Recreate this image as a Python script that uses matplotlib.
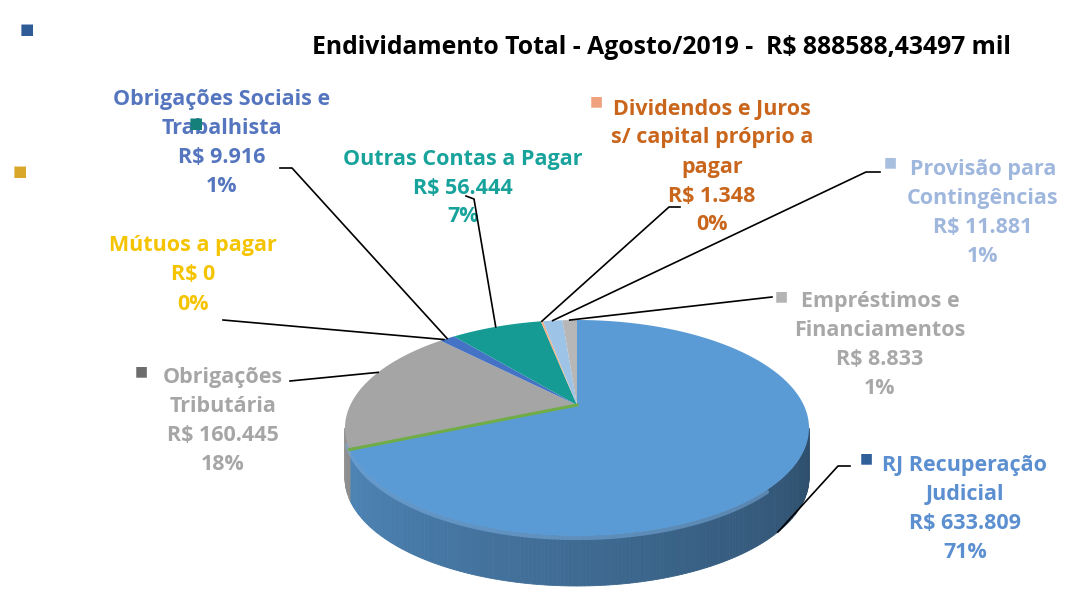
import matplotlib.pyplot as plt
import numpy as np
from matplotlib.patches import Polygon

# data, clockwise from 12 o'clock
categories = ["RJ Recuperação\nJudicial", "Mútuos a pagar", "Obrigações\nTributária",
              "Obrigações Sociais e\nTrabalhista", "Outras Contas a Pagar",
              "Dividendos e Juros\ns/ capital próprio a\npagar", "Provisão para\nContingências",
              "Empréstimos e\nFinanciamentos"]
values = [633809, 0, 160445, 9916, 56444, 1348, 11881, 8833]
value_labels = ["R$ 633.809", "R$ 0", "R$ 160.445", "R$ 9.916", "R$ 56.444",
                "R$ 1.348", "R$ 11.881", "R$ 8.833"]
pct_labels = ["71%", "0%", "18%", "1%", "7%", "0%", "1%", "1%"]
title = "Endividamento Total - Agosto/2019 -  R$ 888588,43497 mil"

slice_colors = ["#5b9bd5", "#70ad47", "#a5a5a5", "#4472c4", "#159b94", "#f4b183", "#9dc3e6", "#b7b7b7"]
text_colors = ["#5b8fd0", "#f5c400", "#a6a6a6", "#5576bf", "#17a39b", "#c9661c", "#9fb7dd", "#a8a8a8"]
key_colors = ["#2f5f99", None, "#6d6d6d", None, None, "#f0a27e", "#a9bfe0", "#b4b4b4"]

# layout (pixels, y down)
cx, cy, a, b, depth = 577, 428, 232, 108, 50
apex = (577, 405)
label_xy = [(965, 509), (193, 275), (223, 421), (222, 143), (463, 188), (712, 167), (983, 213), (880, 345)]
line_start = [[(850, 466), (838, 466)], [(223, 320)], [(290, 381)], [(280, 168), (292, 168)],
              [(466, 196), (474, 199)], [(680, 207), (669, 207)], [(880, 172), (866, 172)], [(772, 297)]]
anchor_deg = [120, 325, 301, None, None, None, None, None]
key_xy = [(866, 458), None, (141, 371), None, None, (596, 101), (890, 162), (781, 296)]

fig = plt.figure(figsize=(10.71, 5.92), dpi=100)
ax = fig.add_axes([0, 0, 1, 1])
ax.set_xlim(0, 1071)
ax.set_ylim(592, 0)
ax.axis("off")


def rim(theta, drop=0.0):
    t = np.radians(theta)
    return cx + a * np.sin(t), cy - b * np.cos(t) + drop


fracs = np.array(values, dtype=float) / sum(values)
bounds = np.concatenate([[0], np.cumsum(fracs) * 360])


def shade(c, f):
    c = np.array(plt.matplotlib.colors.to_rgb(c))
    return tuple(np.clip(c * f, 0, 1))


# side wall (front half only)
steps = np.linspace(90, 270, 181)
for t0, t1 in zip(steps[:-1], steps[1:]):
    k = np.searchsorted(bounds, (t0 + t1) / 2) - 1
    f = 0.5 + 0.38 * (t0 - 90) / 180
    x0, y0 = rim(t0)
    x1, y1 = rim(t1)
    ax.add_patch(Polygon([(x0, y0), (x1, y1), (x1, y1 + depth), (x0, y0 + depth)],
                         closed=True, facecolor=shade(slice_colors[k], f),
                         edgecolor=shade(slice_colors[k], f), lw=0.6, zorder=2))
# soft highlight along the top edge of the wall
hx, hy = rim(np.linspace(125, 262, 120), 2)
ax.plot(hx, hy, color="#7fb3e6", lw=3, alpha=0.5, zorder=3, solid_capstyle="round")

# top face
for i, v in enumerate(values):
    t = np.linspace(bounds[i], bounds[i + 1], max(2, int(bounds[i + 1] - bounds[i]) * 2))
    xs, ys = rim(t)
    pts = [apex] + list(zip(xs, ys))
    if v == 0:
        ax.plot([apex[0], xs[0]], [apex[1], ys[0]], color=slice_colors[i], lw=2.2, zorder=5)
    else:
        ax.add_patch(Polygon(pts, closed=True, facecolor=slice_colors[i], edgecolor="none", zorder=4))

# labels and leader lines
fp = dict(family=["Open Sans", "DejaVu Sans"], weight="bold", fontsize=15.5)
for i in range(len(values)):
    txt = categories[i] + "\n" + value_labels[i] + "\n" + pct_labels[i]
    ax.text(label_xy[i][0], label_xy[i][1], txt, ha="center", va="center", color=text_colors[i],
            linespacing=1.5, zorder=6, **fp)
    ang = anchor_deg[i] if anchor_deg[i] is not None else (bounds[i] + bounds[i + 1]) / 2
    if i == 0:
        end = rim(ang, depth)
    else:
        end = rim(ang)
    pts = line_start[i] + [end]
    ax.plot([p[0] for p in pts], [p[1] for p in pts], color="black", lw=1.2, zorder=7)
    if key_xy[i] is not None:
        ax.text(key_xy[i][0], key_xy[i][1], "■", color=key_colors[i], fontsize=10,
                ha="center", va="center", zorder=6)

# stray legend keys
ax.text(27, 30, "■", color="#2f5b96", fontsize=11, ha="center", va="center")
ax.text(20, 172, "■", color="#d9a72a", fontsize=11, ha="center", va="center")
ax.text(196, 124, "■", color="#157f7a", fontsize=11, ha="center", va="center", zorder=8)

ax.text(662, 47, title, ha="center", va="center", color="black",
        family=["Open Sans", "DejaVu Sans"], weight="bold", fontsize=17.8)

fig.savefig("out.png", dpi=100, facecolor="white")
